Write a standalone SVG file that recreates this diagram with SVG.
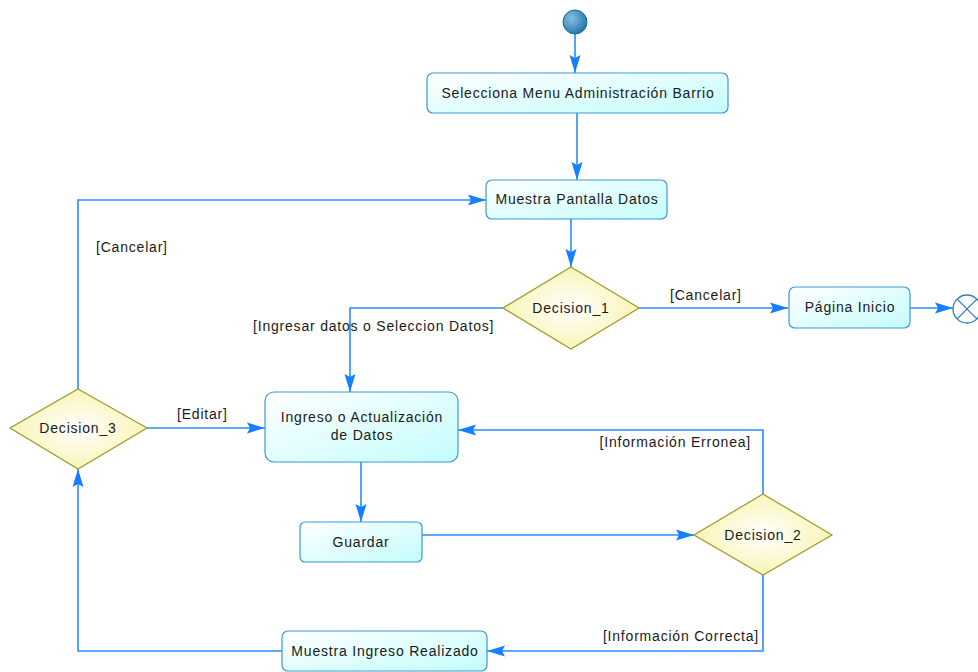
<svg xmlns="http://www.w3.org/2000/svg" width="978" height="672" viewBox="0 0 978 672">
  <defs>
    <linearGradient id="actFill" x1="0" y1="0" x2="1" y2="1">
      <stop offset="0" stop-color="#ffffff"/>
      <stop offset="1" stop-color="#c4fcfc"/>
    </linearGradient>
    <radialGradient id="decFill" cx="0.5" cy="0.5" r="0.6">
      <stop offset="0" stop-color="#ffffff"/>
      <stop offset="1" stop-color="#f8f2a8"/>
    </radialGradient>
    <radialGradient id="startFill" cx="0.35" cy="0.35" r="0.75">
      <stop offset="0" stop-color="#86c0e0"/>
      <stop offset="1" stop-color="#1d6fa6"/>
    </radialGradient>
    <marker id="arrow" markerUnits="userSpaceOnUse" viewBox="0 0 18 12" refX="18" refY="6" markerWidth="18" markerHeight="12" orient="auto">
      <path d="M0,0.5 L18,6 L0,11.5 L3,6 Z" fill="#1480ff"/>
    </marker>
    <style>
      .act { fill: url(#actFill); stroke: #3a9ad6; stroke-width: 1.2; }
      .dec { fill: url(#decFill); stroke: #9a9a2a; stroke-width: 1.2; }
      .lbl { font-family: "Liberation Sans", Arial, sans-serif; font-size: 14px; letter-spacing: 0.8px; fill: #1a1a1a; }
      .mid { text-anchor: middle; }
      .end { text-anchor: end; }
      .flow { fill: none; stroke: #2a8cff; stroke-width: 1.6; marker-end: url(#arrow); }
    </style>
  </defs>

  <!-- connectors -->
  <g id="connectors">
    <path class="flow" d="M575,34 L575,73"/>
    <path class="flow" d="M577,113 L577,180"/>
    <path class="flow" d="M571,219 L571,267"/>
    <path class="flow" d="M639,308 L788,308"/>
    <path class="flow" d="M910,308 L953,308"/>
    <path class="flow" d="M503,308 L350,308 L350,392"/>
    <path class="flow" d="M361,462 L361,522"/>
    <path class="flow" d="M422,535 L694,535"/>
    <path class="flow" d="M763,494 L763,430 L458,430"/>
    <path class="flow" d="M763,574 L763,651 L487,651"/>
    <path class="flow" d="M282,651 L78,651 L78,469"/>
    <path class="flow" d="M147,428 L265,428"/>
    <path class="flow" d="M78,389 L78,200 L486,200"/>
    <text class="lbl" x="670" y="300">[Cancelar]</text>
    <text class="lbl" x="253" y="331">[Ingresar datos o Seleccion Datos]</text>
    <text class="lbl end" x="751" y="447">[Información Erronea]</text>
    <text class="lbl end" x="759" y="641">[Información Correcta]</text>
    <text class="lbl" x="177" y="419">[Editar]</text>
    <text class="lbl" x="96" y="252">[Cancelar]</text>
  </g>

  <!-- start -->
  <g id="start">
    <circle cx="575" cy="22" r="12" fill="url(#startFill)" stroke="#1b6a9c" stroke-width="1"/>
  </g>

  <g id="selecciona-menu">
    <rect class="act" x="427" y="73" width="301" height="40" rx="6"/>
    <text class="lbl mid" x="578" y="98">Selecciona Menu Administración Barrio</text>
  </g>

  <g id="muestra-pantalla">
    <rect class="act" x="486" y="180" width="181" height="39" rx="6"/>
    <text class="lbl mid" x="577" y="204">Muestra Pantalla Datos</text>
  </g>

  <g id="decision-1">
    <polygon class="dec" points="571,267 639,308 571,349 503,308"/>
    <text class="lbl mid" x="571" y="313">Decision_1</text>
  </g>

  <g id="pagina-inicio">
    <rect class="act" x="789" y="287" width="121" height="41" rx="6"/>
    <text class="lbl mid" x="850" y="312">Página Inicio</text>
  </g>

  <!-- final node -->
  <g id="final">
    <circle cx="967" cy="309" r="14" fill="#ffffff" stroke="#2a7fb8" stroke-width="1.3"/>
    <path d="M957.1,299.1 L976.9,318.9 M976.9,299.1 L957.1,318.9" stroke="#2a7fb8" stroke-width="1.3"/>
  </g>

  <g id="ingreso">
    <rect class="act" x="265" y="392" width="193" height="70" rx="9"/>
    <text class="lbl mid" x="362" y="422">Ingreso o Actualización</text>
    <text class="lbl mid" x="362" y="440">de Datos</text>
  </g>

  <g id="guardar">
    <rect class="act" x="300" y="522" width="122" height="40" rx="5"/>
    <text class="lbl mid" x="361" y="547">Guardar</text>
  </g>

  <g id="decision-2">
    <polygon class="dec" points="763,494 832,535 763,575 694,535"/>
    <text class="lbl mid" x="763" y="540">Decision_2</text>
  </g>

  <g id="muestra-ingreso">
    <rect class="act" x="282" y="631" width="205" height="40" rx="6"/>
    <text class="lbl mid" x="385" y="656">Muestra Ingreso Realizado</text>
  </g>

  <g id="decision-3">
    <polygon class="dec" points="78,389 147,428 78,469 10,428"/>
    <text class="lbl mid" x="78" y="433">Decision_3</text>
  </g>
</svg>
